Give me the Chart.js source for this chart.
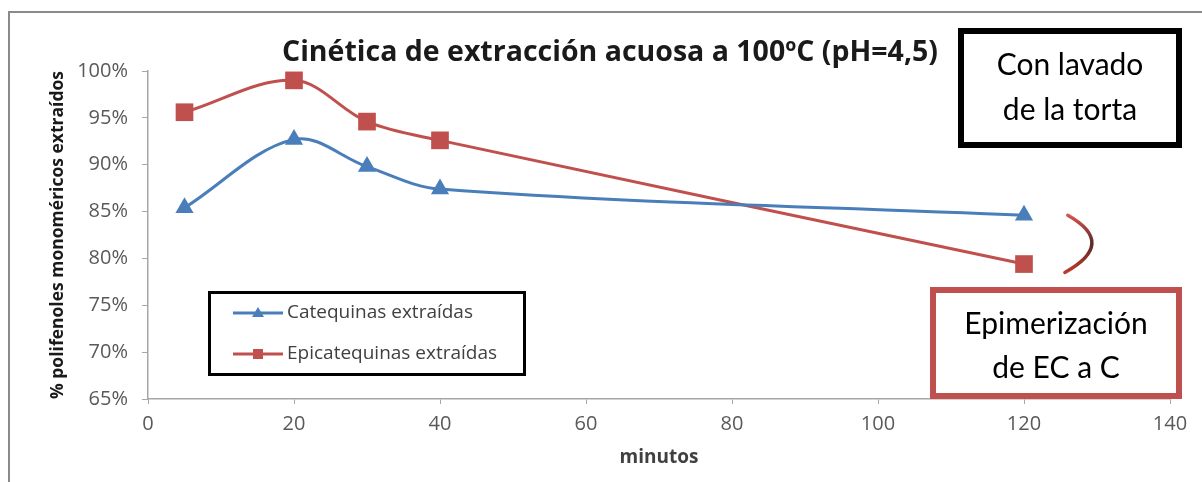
<!DOCTYPE html>
<html lang="es">
<head>
<meta charset="utf-8">
<title>Cinética de extracción acuosa a 100ºC (pH=4,5)</title>
<script src="https://cdn.jsdelivr.net/npm/chart.js@4.4.1/dist/chart.umd.min.js"></script>
<style>
  html, body { margin: 0; padding: 0; background: #ffffff; }
  #wrap { position: relative; width: 1202px; height: 482px; }
</style>
</head>
<body>
<div id="wrap"><canvas id="chart" width="1202" height="482"></canvas></div>
<script>
// Extraction time (minutes)
const minutos = [5, 20, 30, 40, 120];
// % of monomeric polyphenols extracted
const catequinas = [85.4, 92.7, 89.8, 87.4, 84.6];
const epicatequinas = [95.6, 99.0, 94.6, 92.6, 79.4];
// Axis ranges / tick steps
const yTicks = [65, 70, 75, 80, 85, 90, 95, 100];
const xTicks = [0, 20, 40, 60, 80, 100, 120, 140];

const seriesNames = ['Catequinas extraídas', 'Epicatequinas extraídas'];
const titulo = 'Cinética de extracción acuosa a 100ºC (pH=4,5)';
const notaLavado = ['Con lavado', 'de la torta'];
const notaEpimer = ['Epimerización', 'de EC a C'];

const FONT = '"Open Sans", Lato, "Liberation Sans", sans-serif';
const NOTE_FONT = 'Lato, "Open Sans", sans-serif';
const BLUE = '#4a7ebb';
const RED = '#c0504d';

const toPoints = (ys) => minutos.map((m, i) => ({ x: m, y: ys[i] }));

// Frame, title, legend and the callout boxes drawn around the plot
const decor = {
  id: 'decor',
  beforeDraw(chart) {
    const ctx = chart.ctx;
    ctx.save();
    ctx.fillStyle = '#ffffff';
    ctx.fillRect(0, 0, chart.width, chart.height);
    // outer frame (top and left edges)
    ctx.strokeStyle = '#8a8a8a';
    ctx.lineWidth = 2;
    ctx.beginPath();
    ctx.moveTo(9, chart.height);
    ctx.lineTo(9, 12);
    ctx.lineTo(chart.width, 12);
    ctx.stroke();
    ctx.restore();
  },
  afterDraw(chart) {
    const ctx = chart.ctx;
    const xs = chart.scales.x, ys = chart.scales.y;
    ctx.save();

    // title
    ctx.fillStyle = '#1a1a1a';
    ctx.font = 'bold 28.5px ' + FONT;
    ctx.textAlign = 'center';
    ctx.textBaseline = 'middle';
    ctx.fillText(titulo, 610, 53);

    // legend
    ctx.strokeStyle = '#000000';
    ctx.lineWidth = 3;
    ctx.strokeRect(209.5, 292.5, 315, 82);
    chart.data.datasets.forEach((ds, i) => {
      const y = 313 + i * 41;
      ctx.strokeStyle = ds.borderColor;
      ctx.lineWidth = 3;
      ctx.beginPath();
      ctx.moveTo(233, y);
      ctx.lineTo(283, y);
      ctx.stroke();
      ctx.fillStyle = ds.backgroundColor;
      if (ds.pointStyle === 'triangle') {
        ctx.beginPath();
        ctx.moveTo(258, y - 6);
        ctx.lineTo(264, y + 4);
        ctx.lineTo(252, y + 4);
        ctx.closePath();
        ctx.fill();
      } else {
        ctx.fillRect(253, y - 5, 10, 10);
      }
      ctx.fillStyle = '#404040';
      ctx.font = '19px ' + FONT;
      ctx.textAlign = 'left';
      ctx.textBaseline = 'middle';
      ctx.fillText(ds.label, 287, y);
    });

    // callout: washing of the cake
    ctx.strokeStyle = '#000000';
    ctx.lineWidth = 6;
    ctx.strokeRect(961, 31, 218, 114);
    ctx.fillStyle = '#000000';
    ctx.font = '30px ' + NOTE_FONT;
    ctx.textAlign = 'center';
    ctx.textBaseline = 'middle';
    ctx.fillText(notaLavado[0], 1070, 65);
    ctx.fillText(notaLavado[1], 1070, 110);

    // callout: epimerization
    ctx.fillStyle = '#ffffff';
    ctx.fillRect(933, 290, 246, 106);
    ctx.strokeStyle = RED;
    ctx.lineWidth = 6;
    ctx.strokeRect(933, 290, 246, 106);
    ctx.fillStyle = '#000000';
    ctx.fillText(notaEpimer[0], 1056, 324);
    ctx.fillText(notaEpimer[1], 1056, 368);

    // curved bracket between the two 120-min points
    const p0 = { x: xs.getPixelForValue(126.0), y: ys.getPixelForValue(84.6) };
    const pc = { x: xs.getPixelForValue(132.8), y: ys.getPixelForValue(81.6) };
    const p1 = { x: xs.getPixelForValue(125.6), y: ys.getPixelForValue(78.5) };
    const grad = ctx.createLinearGradient(0, p0.y, 0, p1.y);
    grad.addColorStop(0, '#d9534f');
    grad.addColorStop(0.5, '#5a2a28');
    grad.addColorStop(1, '#c0392b');
    ctx.strokeStyle = grad;
    ctx.lineWidth = 3.5;
    ctx.lineCap = 'round';
    ctx.beginPath();
    ctx.moveTo(p0.x, p0.y);
    ctx.quadraticCurveTo(pc.x, pc.y, p1.x, p1.y);
    ctx.stroke();

    ctx.restore();
  }
};

new Chart(document.getElementById('chart'), {
  type: 'line',
  data: {
    datasets: [
      {
        label: seriesNames[0],
        data: toPoints(catequinas),
        borderColor: BLUE,
        backgroundColor: BLUE,
        borderWidth: 3,
        pointStyle: 'triangle',
        pointRadius: 10.5,
        pointBorderWidth: 0,
        tension: 0.35
      },
      {
        label: seriesNames[1],
        data: toPoints(epicatequinas),
        borderColor: RED,
        backgroundColor: RED,
        borderWidth: 3,
        pointStyle: 'rect',
        pointRadius: 12.5,
        pointBorderWidth: 0,
        tension: 0.35
      }
    ]
  },
  options: {
    responsive: false,
    animation: false,
    layout: { padding: { top: 71, right: 32, left: 0, bottom: 0 } },
    plugins: {
      legend: { display: false },
      title: { display: false },
      tooltip: { enabled: false }
    },
    scales: {
      x: {
        type: 'linear',
        min: xTicks[0],
        max: xTicks[xTicks.length - 1],
        afterBuildTicks: (s) => { s.ticks = xTicks.map(v => ({ value: v })); },
        afterFit: (s) => { s.height = 83; },
        grid: { display: true, drawOnChartArea: false, tickLength: 5, color: '#a6a6a6' },
        border: { display: true, color: '#a6a6a6', width: 1.5 },
        ticks: { color: '#595959', font: { family: FONT, size: 20 }, padding: 8 },
        title: {
          display: true,
          text: 'minutos',
          color: '#404040',
          font: { family: FONT, size: 19, weight: 'bold' },
          padding: { top: 0, bottom: 13.5 }
        }
      },
      y: {
        min: yTicks[0],
        max: yTicks[yTicks.length - 1],
        afterBuildTicks: (s) => { s.ticks = yTicks.map(v => ({ value: v })); },
        afterFit: (s) => { s.width = 148; },
        grid: { display: true, drawOnChartArea: false, tickLength: 6, color: '#a6a6a6' },
        border: { display: true, color: '#a6a6a6', width: 1.5 },
        ticks: {
          color: '#595959',
          font: { family: FONT, size: 20 },
          padding: 14,
          callback: (v) => v + '%'
        },
        title: {
          display: true,
          text: '% polifenoles monoméricos extraídos',
          color: '#1a1a1a',
          font: { family: FONT, size: 17.5, weight: 'bold' },
          padding: { top: 47.5, bottom: 0 }
        }
      }
    }
  },
  plugins: [decor]
});
</script>
</body>
</html>
